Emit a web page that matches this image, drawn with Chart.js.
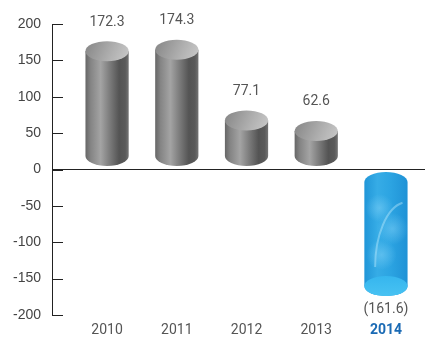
<!DOCTYPE html>
<html>
<head>
<meta charset="utf-8">
<script src="https://cdn.jsdelivr.net/npm/chart.js@4/dist/chart.umd.min.js"></script>
<style>
  html, body { margin:0; padding:0; background:#fff; }
  #wrap { width:427px; height:337px; }
</style>
</head>
<body>
<div id="wrap"><canvas id="chart"></canvas></div>
<script>
// data
const years  = ['2010', '2011', '2012', '2013', '2014'];
const values = [172.3, 174.3, 77.1, 62.6, -161.6];
const valueLabels = ['172.3', '174.3', '77.1', '62.6', '(161.6)'];
const yTicks = [-200, -150, -100, -50, 0, 50, 100, 150, 200];

const HILITE = 4; // 2014 shown in blue

// draws each bar element as a cylinder + value label
const cylinderPlugin = {
  id: 'cylinders',
  afterDatasetsDraw(chart) {
    const ctx = chart.ctx;
    const meta = chart.getDatasetMeta(0);
    const ry = 10;
    meta.data.forEach((bar, i) => {
      const { x, y, base, width } = bar.getProps(['x', 'y', 'base', 'width'], true);
      const rx = width / 2, l = x - rx, r = x + rx;
      const neg = values[i] < 0;
      ctx.save();
      if (!neg) {
        const topC = y + 7, botC = base - 13;
        const g = ctx.createLinearGradient(l, 0, r, 0);
        g.addColorStop(0, '#666');
        g.addColorStop(0.12, '#848484');
        g.addColorStop(0.35, '#a4a4a4');
        g.addColorStop(0.55, '#7e7e7e');
        g.addColorStop(0.78, '#545454');
        g.addColorStop(0.92, '#5a5a5a');
        g.addColorStop(1, '#747474');
        ctx.beginPath();
        ctx.moveTo(l, topC);
        ctx.lineTo(l, botC);
        ctx.ellipse(x, botC, rx, ry, 0, Math.PI, 0, true);
        ctx.lineTo(r, topC);
        ctx.closePath();
        ctx.fillStyle = g;
        ctx.fill();
        const t = ctx.createLinearGradient(l, topC - ry, r, topC + ry);
        t.addColorStop(0, '#858585');
        t.addColorStop(0.6, '#b0b0b0');
        t.addColorStop(1, '#cacaca');
        ctx.beginPath();
        ctx.ellipse(x, topC, rx, ry, 0, 0, Math.PI * 2);
        ctx.fillStyle = t;
        ctx.fill();
      } else {
        const topC = base + 12, botC = y - 1;
        const g = ctx.createLinearGradient(l, 0, r, 0);
        g.addColorStop(0, '#2096d8');
        g.addColorStop(0.3, '#36ace6');
        g.addColorStop(0.6, '#2ca4e2');
        g.addColorStop(1, '#1f92d6');
        ctx.beginPath();
        ctx.ellipse(x, topC, rx, ry, 0, Math.PI, Math.PI * 2, false);
        ctx.lineTo(r, botC);
        ctx.ellipse(x, botC, rx, ry, 0, 0, Math.PI, false);
        ctx.closePath();
        ctx.fillStyle = g;
        ctx.fill();
        // cloudy light patches + curved streak
        ctx.save();
        ctx.clip();
        [[0.35, 0.25, 14], [0.65, 0.45, 16], [0.4, 0.7, 15]].forEach(([fx, fy, rad]) => {
          const cx = l + width * fx, cy = topC + (botC - topC) * fy;
          const rg = ctx.createRadialGradient(cx, cy, 0, cx, cy, rad);
          rg.addColorStop(0, 'rgba(140,215,250,0.45)');
          rg.addColorStop(1, 'rgba(140,215,250,0)');
          ctx.fillStyle = rg;
          ctx.fillRect(cx - rad, cy - rad, rad * 2, rad * 2);
        });
        ctx.strokeStyle = 'rgba(200,240,255,0.4)';
        ctx.lineWidth = 2;
        ctx.beginPath();
        ctx.ellipse(r, topC + 85, width * 0.75, 65, 0, Math.PI * 1.0, Math.PI * 1.45);
        ctx.stroke();
        ctx.restore();
        const b = ctx.createLinearGradient(0, botC - ry, 0, botC + ry);
        b.addColorStop(0, '#36b6ee');
        b.addColorStop(1, '#48c2f2');
        ctx.beginPath();
        ctx.ellipse(x, botC, rx, ry, 0, 0, Math.PI * 2);
        ctx.fillStyle = b;
        ctx.fill();
      }
      // value label
      ctx.fillStyle = '#555';
      ctx.font = '14px Roboto';
      ctx.textAlign = 'center';
      ctx.textBaseline = 'middle';
      ctx.fillText(valueLabels[i], x, neg ? y + 22 : y - 22);
      ctx.restore();
    });
  },
  // small tick marks on the inside of the y axis
  afterDraw(chart) {
    const ctx = chart.ctx, ys = chart.scales.y;
    ctx.save();
    ctx.strokeStyle = '#222';
    ctx.lineWidth = 1;
    ys.ticks.forEach(t => {
      const py = Math.round(ys.getPixelForValue(t.value)) + 0.5;
      ctx.beginPath();
      ctx.moveTo(ys.right, py);
      ctx.lineTo(ys.right + 11, py);
      ctx.stroke();
    });
    ctx.restore();
  }
};

new Chart(document.getElementById('chart'), {
  type: 'bar',
  data: {
    datasets: [{
      data: values.map((v, i) => ({ x: i, y: v })),
      backgroundColor: 'transparent',
      barPercentage: 0.62,
      categoryPercentage: 1
    }]
  },
  options: {
    responsive: true,
    maintainAspectRatio: false,
    animation: false,
    layout: { padding: { top: 24, right: 2, left: 0, bottom: 0 } },
    plugins: { legend: { display: false }, tooltip: { enabled: false } },
    scales: {
      x: {
        type: 'linear',
        offset: false,
        min: -0.79,
        max: 4.56,
        grid: { display: false, drawTicks: false },
        border: { display: false },
        afterFit: s => { s.height = 22; },
        ticks: {
          stepSize: 1,
          includeBounds: false,
          padding: 7,
          autoSkip: false,
          maxRotation: 0,
          callback: v => years[v] || '',
          color: c => c.tick && c.tick.value === HILITE ? '#1a6ab4' : '#555',
          font: c => ({ family: 'Roboto', size: 14, weight: c.tick && c.tick.value === HILITE ? 'bold' : 'normal' })
        }
      },
      y: {
        min: yTicks[0],
        max: yTicks[yTicks.length - 1],
        afterFit: s => { s.width = 52; },
        afterBuildTicks: s => { s.ticks = yTicks.map(v => ({ value: v })); },
        border: { display: true, color: '#222', width: 1 },
        grid: {
          drawTicks: false,
          color: c => c.tick && c.tick.value === 0 ? '#222' : 'rgba(0,0,0,0)',
          lineWidth: 1
        },
        ticks: {
          padding: 11,
          color: '#444',
          font: { family: 'Liberation Sans', size: 14 }
        }
      }
    }
  },
  plugins: [cylinderPlugin]
});
</script>
</body>
</html>
